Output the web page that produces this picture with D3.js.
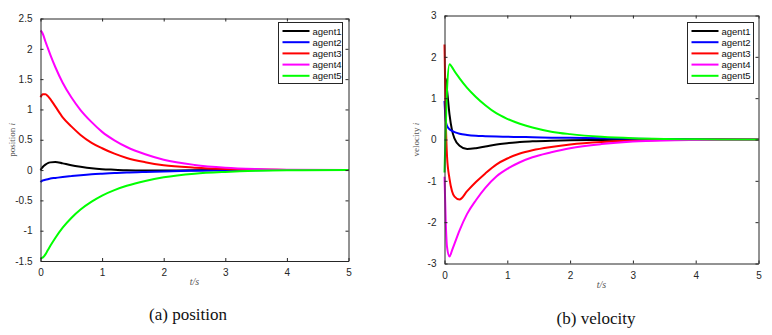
<!DOCTYPE html>
<html>
<head>
<meta charset="utf-8">
<script src="https://cdnjs.cloudflare.com/ajax/libs/d3/7.8.5/d3.min.js"></script>
<style>
body { margin:0; background:#fff; }
text { font-family: "Liberation Sans", Arial, sans-serif; }
</style>
</head>
<body>
<script>
// time samples (s)
var tVals = [0, 0.02, 0.04, 0.08, 0.12, 0.16, 0.24, 0.36, 0.5, 0.65, 0.83, 1, 1.2, 1.4, 1.7, 2, 2.5, 3, 3.5, 4, 5];

var agentNames = ["agent1", "agent2", "agent3", "agent4", "agent5"];
var agentColors = ["#000000", "#0000ff", "#ff0000", "#ff00ff", "#00ff00"];

// position of each agent
var pos1 = [0, 0.03, 0.055, 0.09, 0.115, 0.127, 0.135, 0.11, 0.08, 0.055, 0.03, 0.015, 0.005, -0.004, -0.008, -0.007, -0.003, 0, 0, 0, 0];
var pos2 = [-0.2, -0.18, -0.17, -0.16, -0.15, -0.14, -0.13, -0.115, -0.1, -0.085, -0.07, -0.06, -0.05, -0.04, -0.03, -0.022, -0.012, -0.006, -0.002, 0, 0];
var pos3 = [1.2, 1.235, 1.25, 1.25, 1.22, 1.17, 1.05, 0.87, 0.72, 0.58, 0.45, 0.36, 0.27, 0.2, 0.13, 0.08, 0.04, 0.018, 0.008, 0.003, 0];
var pos4 = [2.3, 2.28, 2.24, 2.12, 2.01, 1.9, 1.7, 1.44, 1.2, 0.99, 0.79, 0.63, 0.49, 0.38, 0.26, 0.17, 0.085, 0.04, 0.018, 0.007, 0];
var pos5 = [-1.45, -1.45, -1.44, -1.39, -1.32, -1.25, -1.12, -0.95, -0.79, -0.65, -0.52, -0.42, -0.33, -0.26, -0.18, -0.12, -0.06, -0.03, -0.012, -0.004, 0];

// velocity of each agent
var vel1 = [1.5, 1.45, 1.2, 0.6, 0.22, 0.02, -0.15, -0.23, -0.21, -0.17, -0.12, -0.09, -0.06, -0.045, -0.03, -0.02, -0.01, -0.004, 0, 0, 0];
var vel2 = [0.93, 0.45, 0.33, 0.25, 0.21, 0.18, 0.14, 0.11, 0.09, 0.08, 0.07, 0.065, 0.06, 0.055, 0.045, 0.04, 0.03, 0.02, 0.012, 0.008, 0.003];
var vel3 = [2.3, 0.5, -0.4, -0.95, -1.25, -1.38, -1.45, -1.25, -1.03, -0.82, -0.6, -0.46, -0.34, -0.26, -0.18, -0.12, -0.06, -0.03, -0.013, -0.005, 0];
var vel4 = [-0.9, -2.0, -2.6, -2.83, -2.68, -2.52, -2.2, -1.8, -1.47, -1.17, -0.89, -0.71, -0.55, -0.43, -0.31, -0.21, -0.11, -0.05, -0.022, -0.01, 0];
var vel5 = [-0.8, 0.3, 1.2, 1.82, 1.75, 1.65, 1.48, 1.25, 1.03, 0.83, 0.63, 0.5, 0.38, 0.29, 0.19, 0.13, 0.065, 0.03, 0.013, 0.005, 0];

var xTicks = [0, 1, 2, 3, 4, 5];
var posTicks = [-1.5, -1, -0.5, 0, 0.5, 1, 1.5, 2, 2.5];
var velTicks = [-3, -2, -1, 0, 1, 2, 3];

var width = 772, height = 335;
var svg = d3.select("body").append("svg")
  .attr("width", width)
  .attr("height", height);

function drawPanel(box, yDomain, yTicks, series, yName, caption) {
  var x = d3.scaleLinear().domain([0, 5]).range([box.x0, box.x1]);
  var y = d3.scaleLinear().domain(yDomain).range([box.y1, box.y0]);
  var g = svg.append("g");

  // curves
  var line = d3.line()
    .x(function(d) { return x(d[0]); })
    .y(function(d) { return y(d[1]); })
    .curve(d3.curveMonotoneX);
  series.forEach(function(vals, i) {
    g.append("path")
      .datum(tVals.map(function(t, k) { return [t, vals[k]]; }))
      .attr("fill", "none")
      .attr("stroke", agentColors[i])
      .attr("stroke-width", 2)
      .attr("d", line);
  });

  // axes, matlab style with ticks inside on all sides
  var axCol = "#262626";
  g.append("g").attr("transform", "translate(0," + box.y1 + ")")
    .call(d3.axisBottom(x).tickValues(xTicks).tickSizeInner(-3).tickSizeOuter(0).tickPadding(8).tickFormat(d3.format("d")));
  g.append("g").attr("transform", "translate(0," + box.y0 + ")")
    .call(d3.axisTop(x).tickValues(xTicks).tickSizeInner(-3).tickSizeOuter(0).tickFormat(""));
  g.append("g").attr("transform", "translate(" + box.x0 + ",0)")
    .call(d3.axisLeft(y).tickValues(yTicks).tickSizeInner(-3).tickSizeOuter(0).tickPadding(8).tickFormat(function(d) { return String(d); }));
  g.append("g").attr("transform", "translate(" + box.x1 + ",0)")
    .call(d3.axisRight(y).tickValues(yTicks).tickSizeInner(-3).tickSizeOuter(0).tickFormat(""));
  g.selectAll(".domain").attr("stroke", axCol).attr("stroke-width", 1);
  g.selectAll(".tick line").attr("stroke", axCol);
  g.selectAll(".tick text").attr("fill", "#262626").style("font-size", "10px");

  // axis titles
  g.append("text")
    .attr("x", (box.x0 + box.x1) / 2).attr("y", box.y1 + 24)
    .attr("text-anchor", "middle")
    .style("font-family", "'Liberation Serif', 'DejaVu Serif', serif")
    .style("font-style", "italic").style("font-size", "10px").attr("fill", "#555")
    .text("t/s");
  var yl = g.append("text")
    .attr("transform", "translate(" + (box.x0 - 26) + "," + ((box.y0 + box.y1) / 2) + ") rotate(-90)")
    .attr("text-anchor", "middle")
    .style("font-family", "'Liberation Serif', 'DejaVu Serif', serif")
    .style("font-size", "9px").attr("fill", "#555");
  yl.append("tspan").text(yName + " ");
  yl.append("tspan").style("font-style", "italic").text("i");

  // legend
  var lg = g.append("g").attr("transform", "translate(" + box.lx + "," + box.ly + ")");
  lg.append("rect").attr("width", box.lw).attr("height", 61)
    .attr("fill", "#fff").attr("stroke", "#262626").attr("stroke-width", 1);
  agentNames.forEach(function(name, i) {
    var yy = 8.5 + i * 11.2;
    lg.append("line").attr("x1", 4).attr("x2", 31).attr("y1", yy).attr("y2", yy)
      .attr("stroke", agentColors[i]).attr("stroke-width", 2);
    lg.append("text").attr("x", 34).attr("y", yy + 3.5)
      .style("font-size", "9.5px").attr("fill", "#111").text(name);
  });

  // caption
  svg.append("text")
    .attr("x", box.cx).attr("y", box.cy)
    .attr("text-anchor", "middle")
    .style("font-family", "'Liberation Serif', 'DejaVu Serif', serif")
    .style("font-size", "17px").attr("fill", "#111")
    .text(caption);
}

drawPanel({x0: 40.5, x1: 348.5, y0: 18.5, y1: 261, lx: 278.5, ly: 22.5, lw: 64, cx: 188, cy: 320},
  [-1.5, 2.5], posTicks, [pos1, pos2, pos3, pos4, pos5], "position", "(a) position");
drawPanel({x0: 444.5, x1: 758.5, y0: 15.5, y1: 263.5, lx: 687.5, ly: 22.5, lw: 66, cx: 596, cy: 324},
  [-3, 3], velTicks, [vel1, vel2, vel3, vel4, vel5], "velocity", "(b) velocity");
</script>
</body>
</html>
